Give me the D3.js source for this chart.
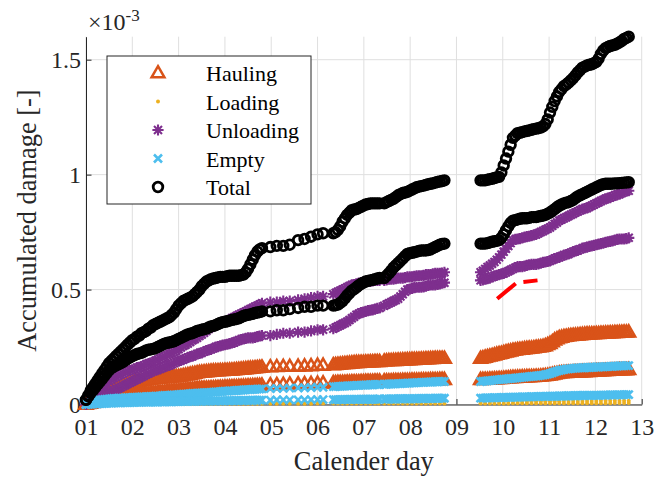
<!DOCTYPE html>
<html>
<head>
<meta charset="utf-8">
<script src="https://cdn.jsdelivr.net/npm/d3@7"></script>
<style>
  html, body { margin: 0; padding: 0; background: #fff; }
  svg { display: block; font-family: "Liberation Serif", "Times New Roman", serif; }
</style>
</head>
<body>
<svg id="chart" width="667" height="477"></svg>
<script>
// Time stamps (calendar day) of the recorded cycles
const days = [
  1.00, 1.05, 1.10, 1.15, 1.20, 1.25, 1.30, 1.35, 1.40, 1.45, 1.50, 1.55, 1.60, 1.65, 1.70, 1.75, 1.80, 1.85, 1.90, 1.95,
  2.00, 2.05, 2.10, 2.15, 2.20, 2.25, 2.30, 2.35, 2.40, 2.45, 2.50, 2.55, 2.60, 2.65, 2.70, 2.75, 2.80, 2.85, 2.90, 2.95,
  3.00, 3.05, 3.10, 3.15, 3.20, 3.25, 3.30, 3.35, 3.40, 3.45, 3.50, 3.55, 3.60, 3.65, 3.70, 3.75, 3.80, 3.85, 3.90, 3.95,
  4.00, 4.05, 4.10, 4.15, 4.20, 4.25, 4.30, 4.35, 4.40, 4.45, 4.50, 4.55, 4.60, 4.65, 4.70, 4.75, 4.80,
  4.98, 5.12, 5.26, 5.40,
  5.58, 5.72, 5.86, 6.00, 6.12,
  6.34, 6.39, 6.44, 6.49, 6.54, 6.59, 6.64, 6.69, 6.74, 6.79, 6.84, 6.89, 6.94, 6.99, 7.04, 7.09, 7.14, 7.19, 7.24, 7.29, 7.34,
  7.44, 7.49, 7.54, 7.59, 7.64, 7.69, 7.74, 7.79, 7.84, 7.89, 7.94, 7.99, 8.04, 8.09, 8.14, 8.19, 8.24, 8.29, 8.34, 8.39,
  8.44, 8.49, 8.54, 8.59, 8.64, 8.69, 8.74,
  9.52, 9.57, 9.62, 9.67, 9.72, 9.77, 9.82, 9.87, 9.92, 9.97, 10.02, 10.07, 10.12, 10.17, 10.22, 10.27, 10.32, 10.37, 10.42, 10.47,
  10.52, 10.57, 10.62, 10.67, 10.72, 10.77, 10.82, 10.87, 10.92, 10.97, 11.02, 11.07, 11.12, 11.17, 11.22, 11.27, 11.32, 11.37, 11.42, 11.47,
  11.52, 11.57, 11.62, 11.67, 11.72, 11.77, 11.82, 11.87, 11.92, 11.97, 12.02, 12.07, 12.12, 12.17, 12.22, 12.27, 12.32, 12.37, 12.42, 12.47,
  12.52, 12.57, 12.62, 12.67, 12.72
];

// Loading events are logged less often
const loadDays = [
  1.0, 1.1, 1.2, 1.3, 1.4, 1.5, 1.6, 1.7, 1.8, 1.9,
  2.0, 2.1, 2.2, 2.3, 2.4, 2.5, 2.6, 2.7, 2.8, 2.9,
  3.0, 3.1, 3.2, 3.3, 3.4, 3.5, 3.6, 3.7, 3.8, 3.9,
  4.0, 4.1, 4.2, 4.3, 4.4, 4.5, 4.6, 4.7, 4.8,
  4.98, 5.12, 5.26, 5.40,
  5.58, 5.72, 5.86, 6.00, 6.12,
  6.34, 6.44, 6.54, 6.64, 6.74, 6.84, 6.94, 7.04, 7.14, 7.24, 7.32,
  7.44, 7.54, 7.64, 7.74, 7.84, 7.94, 8.04, 8.14, 8.24, 8.34, 8.44, 8.54, 8.64, 8.74,
  9.52, 9.62, 9.72, 9.82, 9.92, 10.02, 10.12, 10.22, 10.32, 10.42, 10.52,
  10.62, 10.72, 10.82, 10.92, 11.02, 11.12, 11.22, 11.32, 11.42, 11.52,
  11.62, 11.72, 11.82, 11.92, 12.02, 12.12, 12.22, 12.32, 12.42, 12.52,
  12.62, 12.72
];

// Accumulated damage, units of 1e-3 (two machines per operating mode)
const haulingA = [
  0, .006, .012, .018, .024, .03, .035, .04, .045, .05, .055, .06, .064, .068, .072, .076, .08, .084, .087, .09,
  .093, .096, .098, .10, .103, .105, .107, .109, .11, .111, .112, .113, .114, .115, .116, .117, .118, .119, .12, .121,
  .122, .123, .125, .127, .129, .131, .133, .135, .137, .139, .14, .141, .142, .143, .144, .145, .146, .146, .147, .147,
  .148, .148, .149, .149, .15, .151, .152, .153, .154, .155, .156, .157, .158, .159, .16, .161, .162,
  .163, .164, .165, .165,
  .166, .167, .168, .17, .17,
  .172, .173, .174, .175, .176, .177, .178, .179, .18, .181, .182, .182, .183, .183, .184, .184, .185, .185, .186, .186, .186,
  .188, .189, .19, .19, .191, .191, .192, .192, .193, .193, .194, .194, .195, .195, .196, .196, .197, .197, .198, .198,
  .199, .199, .20, .20, .20, .20, .20,
  .20, .202, .205, .208, .21, .212, .215, .218, .22, .222, .225, .228, .23, .232, .235, .236, .238, .239, .24, .242,
  .243, .244, .245, .246, .248, .249, .25, .252, .255, .26, .265, .272, .28, .285, .29, .292, .295, .296, .298, .299,
  .30, .301, .302, .303, .304, .305, .306, .306, .307, .307, .308, .308, .309, .309, .31, .31, .311, .311, .312, .312,
  .313, .313, .314, .314, .315
];
const haulingB = [
  0, .003, .005, .008, .01, .013, .015, .018, .02, .022, .024, .026, .028, .03, .032, .034, .035, .037, .038, .04,
  .041, .042, .043, .044, .045, .046, .047, .048, .049, .05, .051, .052, .053, .054, .055, .056, .057, .058, .059, .06,
  .061, .062, .063, .064, .065, .066, .067, .068, .069, .07, .07, .07, .071, .071, .072, .072, .073, .073, .074, .074,
  .075, .075, .076, .076, .077, .077, .078, .078, .079, .079, .08, .08, .081, .081, .082, .082, .083,
  .085, .086, .087, .088,
  .089, .09, .091, .092, .093,
  .094, .094, .095, .095, .096, .096, .097, .097, .098, .098, .098, .098, .099, .099, .10, .10, .10, .10, .101, .101, .101,
  .102, .102, .102, .102, .103, .103, .103, .103, .104, .104, .104, .104, .105, .105, .105, .105, .106, .106, .106, .106,
  .107, .107, .107, .107, .108, .108, .108,
  .108, .108, .109, .109, .11, .11, .111, .111, .112, .112, .113, .114, .115, .116, .117, .117, .118, .118, .119, .119,
  .12, .12, .121, .121, .122, .122, .123, .124, .125, .126, .128, .13, .132, .134, .136, .137, .138, .138, .139, .139,
  .14, .14, .141, .141, .142, .142, .143, .143, .144, .144, .145, .145, .146, .146, .147, .147, .148, .148, .149, .149,
  .15, .15, .15, .15, .151
];
const loadingA = [
  0, .001, .001, .002, .002, .002, .003, .003, .003, .003,
  .004, .004, .004, .004, .004, .005, .005, .005, .005, .005,
  .005, .005, .006, .006, .006, .006, .006, .006, .006, .006,
  .007, .007, .007, .007, .007, .007, .007, .008, .008,
  .008, .008, .008, .008,
  .008, .008, .009, .009, .009,
  .009, .009, .009, .009, .01, .01, .01, .01, .01, .01, .01,
  .01, .01, .011, .011, .011, .011, .011, .011, .011, .012, .012, .012, .012, .012,
  .012, .012, .012, .012, .013, .013, .013, .013, .013, .013, .013,
  .014, .014, .014, .014, .014, .014, .014, .015, .015, .015,
  .015, .015, .015, .015, .015, .016, .016, .016, .016, .016,
  .016, .016
];
const loadingB = [
  0, 0, .001, .001, .001, .001, .001, .001, .001, .001,
  .002, .002, .002, .002, .002, .002, .002, .002, .002, .002,
  .002, .002, .002, .003, .003, .003, .003, .003, .003, .003,
  .003, .003, .003, .003, .003, .003, .003, .003, .003,
  .003, .003, .003, .003,
  .003, .003, .003, .004, .004,
  .004, .004, .004, .004, .004, .004, .004, .004, .004, .004, .004,
  .004, .004, .004, .004, .004, .004, .004, .004, .004, .004, .004, .004, .004, .004,
  .004, .004, .004, .004, .004, .004, .004, .005, .005, .005, .005,
  .005, .005, .005, .005, .005, .005, .005, .005, .005, .005,
  .005, .005, .005, .005, .005, .005, .005, .005, .006, .006,
  .006, .006
];
const unloadingA = [
  0, .01, .02, .03, .04, .05, .06, .07, .08, .09, .10, .108, .115, .12, .125, .13, .135, .14, .145, .148,
  .15, .155, .16, .162, .165, .17, .175, .178, .18, .185, .19, .195, .20, .205, .21, .215, .22, .225, .23, .235,
  .24, .248, .255, .26, .265, .272, .28, .285, .29, .298, .305, .312, .32, .328, .335, .34, .345, .35, .355, .358,
  .36, .365, .37, .375, .38, .385, .39, .395, .40, .405, .41, .415, .42, .425, .43, .435, .44,
  .445, .445, .45, .45,
  .455, .46, .465, .47, .47,
  .48, .485, .49, .495, .50, .505, .51, .515, .52, .522, .525, .528, .53, .532, .535, .535, .535, .538, .54, .54, .54,
  .54, .542, .545, .545, .545, .548, .55, .55, .55, .552, .555, .555, .555, .558, .56, .56, .56, .562, .565, .565,
  .565, .568, .57, .57, .57, .572, .575,
  .575, .582, .59, .598, .605, .612, .62, .63, .64, .652, .665, .678, .69, .702, .715, .718, .72, .722, .725, .728,
  .73, .732, .735, .738, .74, .745, .75, .755, .76, .765, .77, .778, .785, .792, .80, .805, .81, .815, .82, .825,
  .83, .835, .84, .845, .85, .852, .855, .86, .865, .87, .875, .88, .885, .89, .895, .898, .90, .905, .91, .912,
  .915, .92, .925, .928, .93
];
const unloadingB = [
  0, .005, .01, .015, .02, .025, .03, .035, .04, .045, .05, .055, .06, .065, .07, .075, .08, .085, .09, .095,
  .10, .105, .11, .115, .12, .125, .13, .135, .14, .145, .15, .152, .155, .16, .165, .168, .17, .175, .18, .185,
  .19, .192, .195, .20, .205, .208, .21, .215, .22, .222, .225, .23, .235, .238, .24, .245, .25, .252, .255, .258,
  .26, .262, .265, .268, .27, .275, .28, .282, .285, .288, .29, .29, .29, .292, .295, .298, .30,
  .30, .305, .31, .31,
  .315, .315, .32, .325, .325,
  .33, .335, .34, .345, .35, .355, .36, .368, .375, .382, .39, .395, .40, .402, .405, .408, .41, .412, .415, .418, .42,
  .43, .435, .44, .445, .45, .455, .46, .47, .48, .49, .50, .502, .505, .508, .51, .51, .51, .512, .515, .518,
  .52, .52, .52, .522, .525, .528, .53,
  .54, .542, .545, .548, .55, .555, .56, .562, .565, .568, .57, .575, .58, .585, .59, .595, .60, .60, .60, .602,
  .605, .608, .61, .61, .61, .612, .615, .618, .62, .622, .625, .63, .635, .638, .64, .645, .65, .652, .655, .66,
  .665, .668, .67, .675, .68, .682, .685, .688, .69, .692, .695, .698, .70, .702, .705, .708, .71, .712, .715, .718,
  .72, .72, .72, .722, .725
];
const emptyA = [
  0, .004, .007, .01, .014, .017, .02, .021, .022, .023, .024, .025, .026, .026, .027, .027, .028, .029, .03, .03,
  .031, .031, .032, .032, .033, .033, .034, .034, .035, .035, .036, .036, .037, .038, .039, .039, .04, .041, .042, .042,
  .043, .044, .045, .045, .046, .047, .048, .048, .049, .049, .05, .051, .052, .052, .053, .054, .055, .055, .056, .057,
  .058, .058, .059, .059, .06, .061, .062, .062, .063, .064, .065, .065, .066, .066, .067, .067, .068,
  .069, .07, .07, .071,
  .072, .073, .074, .075, .075,
  .078, .078, .079, .079, .08, .08, .081, .081, .082, .082, .083, .083, .084, .084, .085, .085, .086, .086, .087, .087, .087,
  .088, .088, .089, .089, .09, .09, .091, .091, .092, .092, .093, .093, .094, .094, .095, .095, .096, .096, .097, .097,
  .098, .098, .099, .099, .10, .10, .10,
  .10, .101, .102, .103, .104, .105, .106, .107, .108, .109, .11, .111, .112, .113, .114, .115, .116, .117, .118, .119,
  .12, .121, .122, .123, .124, .125, .127, .128, .13, .132, .135, .138, .142, .145, .148, .15, .152, .154, .155, .156,
  .157, .158, .159, .159, .16, .16, .161, .161, .162, .162, .163, .163, .164, .164, .165, .165, .166, .166, .167, .167,
  .168, .168, .168, .169, .169
];
const emptyB = [
  0, .001, .002, .002, .003, .003, .004, .004, .005, .005, .006, .006, .007, .007, .007, .007, .008, .008, .008, .008,
  .009, .009, .009, .009, .01, .01, .01, .01, .011, .011, .011, .011, .012, .012, .012, .012, .012, .012, .013, .013,
  .013, .013, .014, .014, .014, .014, .014, .014, .015, .015, .015, .015, .015, .015, .016, .016, .016, .016, .016, .016,
  .017, .017, .017, .017, .017, .017, .018, .018, .018, .018, .018, .018, .019, .019, .019, .019, .019,
  .019, .02, .02, .02,
  .02, .02, .021, .021, .021,
  .021, .021, .021, .021, .021, .022, .022, .022, .022, .022, .022, .022, .023, .023, .023, .023, .023, .023, .023, .023, .024,
  .024, .024, .024, .024, .024, .024, .025, .025, .025, .025, .025, .025, .025, .025, .025, .026, .026, .026, .026, .026,
  .026, .026, .027, .027, .027, .027, .027,
  .028, .028, .029, .029, .029, .029, .03, .03, .03, .03, .031, .031, .031, .031, .032, .032, .032, .032, .033, .033,
  .033, .033, .034, .034, .034, .034, .035, .035, .035, .035, .036, .036, .036, .036, .037, .037, .037, .037, .038, .038,
  .038, .038, .039, .039, .039, .039, .04, .04, .04, .04, .04, .04, .041, .041, .041, .041, .042, .042, .042, .042,
  .042, .042, .043, .043, .043
];
const totalA = [
  .02, .04, .06, .075, .09, .105, .12, .135, .15, .165, .18, .19, .20, .21, .22, .23, .24, .25, .26, .27,
  .28, .285, .295, .30, .31, .315, .32, .33, .335, .345, .35, .355, .36, .365, .37, .375, .38, .39, .40, .415,
  .43, .44, .45, .455, .46, .465, .47, .48, .49, .50, .515, .525, .535, .54, .545, .548, .55, .553, .555, .555,
  .555, .558, .56, .56, .56, .56, .56, .563, .565, .575, .59, .61, .63, .65, .665, .675, .68,
  .685, .69, .69, .695,
  .715, .72, .73, .74, .745,
  .745, .75, .76, .775, .795, .81, .825, .835, .845, .848, .85, .855, .86, .865, .87, .872, .875, .875, .875, .875, .875,
  .875, .88, .885, .89, .895, .902, .91, .915, .92, .922, .925, .93, .935, .94, .945, .948, .95, .952, .955, .958,
  .96, .962, .965, .968, .97, .972, .975,
  .975, .975, .975, .978, .98, .982, .985, .988, .99, 1.01, 1.04, 1.07, 1.10, 1.13, 1.16, 1.17, 1.18, 1.182, 1.185, 1.188,
  1.19, 1.192, 1.195, 1.198, 1.2, 1.202, 1.205, 1.21, 1.22, 1.24, 1.27, 1.295, 1.32, 1.34, 1.36, 1.372, 1.385, 1.392, 1.40, 1.41,
  1.42, 1.432, 1.445, 1.455, 1.465, 1.47, 1.475, 1.478, 1.48, 1.485, 1.49, 1.505, 1.525, 1.54, 1.55, 1.555, 1.56, 1.562, 1.565, 1.57,
  1.575, 1.582, 1.59, 1.595, 1.60
];
const totalB = [
  .02, .035, .05, .062, .075, .088, .10, .112, .125, .138, .15, .158, .165, .17, .175, .18, .185, .192, .20, .205,
  .21, .215, .22, .222, .225, .23, .235, .238, .24, .242, .245, .25, .255, .26, .265, .268, .27, .272, .275, .28,
  .285, .29, .295, .30, .305, .308, .31, .315, .32, .322, .325, .328, .33, .335, .34, .342, .345, .35, .355, .358,
  .36, .362, .365, .368, .37, .372, .375, .38, .385, .388, .39, .392, .395, .398, .40, .402, .405,
  .405, .41, .41, .415,
  .42, .425, .425, .43, .43,
  .43, .432, .435, .442, .45, .462, .475, .485, .495, .502, .51, .518, .525, .53, .535, .538, .54, .542, .545, .548, .55,
  .55, .56, .57, .582, .595, .605, .615, .625, .635, .645, .655, .658, .66, .662, .665, .668, .67, .67, .67, .672,
  .675, .68, .685, .69, .695, .698, .70,
  .70, .70, .70, .702, .705, .708, .71, .712, .715, .725, .74, .758, .775, .79, .80, .802, .805, .808, .81, .81,
  .81, .812, .815, .815, .815, .818, .82, .822, .825, .83, .835, .842, .85, .858, .865, .87, .875, .878, .88, .885,
  .89, .898, .905, .91, .915, .92, .925, .93, .935, .94, .945, .95, .955, .958, .96, .96, .96, .961, .962, .962,
  .963, .964, .965, .966, .967
];

// Dashed red reference segment
const refDays = [9.88, 10.3, 10.75];
const refValues = [0.46, 0.53, 0.54];

// Axis ticks and legend
const dayTicks = [1, 2, 3, 4, 5, 6, 7, 8, 9, 10, 11, 12, 13];
const damageTicks = [0, 0.5, 1, 1.5];
const modeNames = ["Hauling", "Loading", "Unloading", "Empty", "Total"];

// ---------------------------------------------------------------
const W = 667, H = 477;
const margin = { top: 36.7, right: 25.3, bottom: 72.5, left: 86 };
const axisColor = "#262626";

const svg = d3.select("#chart");
const x = d3.scaleLinear().domain([1, 13]).range([margin.left, W - margin.right]);
const y = d3.scaleLinear().domain([0, 1.6]).range([H - margin.bottom, margin.top]);

// grid
const grid = svg.append("g").attr("stroke", "#dfdfdf").attr("stroke-width", 1);
grid.selectAll("line.v").data(dayTicks).join("line")
  .attr("x1", d => x(d)).attr("x2", d => x(d))
  .attr("y1", y(0)).attr("y2", y(1.6));
grid.selectAll("line.h").data(damageTicks).join("line")
  .attr("x1", x(1)).attr("x2", x(13))
  .attr("y1", d => y(d)).attr("y2", d => y(d));

// axes (ticks pointing inward)
const gx = svg.append("g")
  .attr("transform", `translate(0,${y(0)})`)
  .call(d3.axisBottom(x).tickValues(dayTicks)
    .tickFormat(d => String(d).padStart(2, "0"))
    .tickSizeInner(-5.5).tickSizeOuter(0).tickPadding(13));
const gy = svg.append("g")
  .attr("transform", `translate(${x(1)},0)`)
  .call(d3.axisLeft(y).tickValues(damageTicks)
    .tickFormat(d => String(d))
    .tickSizeInner(-5.5).tickSizeOuter(0).tickPadding(5));
[gx, gy].forEach(g => {
  g.selectAll("path, line").attr("stroke", axisColor).attr("stroke-width", 1);
  g.selectAll("text").attr("fill", axisColor)
    .style("font-family", '"Liberation Serif", "Times New Roman", serif')
    .style("font-size", "24px");
});

// exponent note
const expo = svg.append("text").attr("x", 88).attr("y", 30)
  .attr("fill", axisColor).style("font-size", "24px");
expo.append("tspan").text("\u00d710");
expo.append("tspan").attr("dy", -9).style("font-size", "17px").text("-3");

// axis titles
svg.append("text").attr("x", (x(1) + x(13)) / 2).attr("y", 470)
  .attr("text-anchor", "middle").attr("fill", axisColor)
  .style("font-size", "26.4px").text("Calender day");
svg.append("text")
  .attr("transform", `translate(36,${(y(0) + y(1.6)) / 2}) rotate(-90)`)
  .attr("text-anchor", "middle").attr("fill", axisColor)
  .style("font-size", "26.4px").text("Accumulated damage [-]");

// marker shapes
function circlePath(r) {
  const p = d3.path();
  p.moveTo(r, 0); p.arc(0, 0, r, 0, 2 * Math.PI); p.closePath();
  return p.toString();
}
const shapes = {
  tri:   { d: "M0,-6.8L6.4,4.3L-6.4,4.3Z", fill: "none", sw: 2.5 },
  dot:   { d: circlePath(2), fill: "color", sw: 0 },
  star:  { d: "M-5.6,0H5.6M0,-5.6V5.6M-4,-4L4,4M-4,4L4,-4", fill: "none", sw: 2.1 },
  cross: { d: "M-4,-4L4,4M-4,4L4,-4", fill: "none", sw: 2.6 },
  ring:  { d: circlePath(4.8), fill: "none", sw: 2.8 }
};

const modes = [
  { name: modeNames[0], shape: "tri",   color: "#D95319", t: days,     sets: [haulingA, haulingB] },
  { name: modeNames[1], shape: "dot",   color: "#EDB120", t: loadDays, sets: [loadingA, loadingB] },
  { name: modeNames[2], shape: "star",  color: "#7E2F8E", t: days,     sets: [unloadingA, unloadingB] },
  { name: modeNames[3], shape: "cross", color: "#4DBEEE", t: days,     sets: [emptyA, emptyB] },
  { name: modeNames[4], shape: "ring",  color: "#000000", t: days,     sets: [totalA, totalB] }
];

function styleMarker(sel, m) {
  const s = shapes[m.shape];
  sel.attr("d", s.d)
    .attr("fill", s.fill === "color" ? m.color : "none")
    .attr("stroke", s.sw ? m.color : "none")
    .attr("stroke-width", s.sw)
    .attr("stroke-linejoin", "miter");
}

const plot = svg.append("g");
modes.forEach(m => {
  m.sets.forEach(vals => {
    const pts = m.t.map((d, i) => [d, vals[i]]).filter(p => p[1] != null);
    plot.append("g").selectAll("path").data(pts).join("path")
      .attr("transform", p => `translate(${x(p[0])},${y(p[1])})`)
      .call(styleMarker, m);
  });
});

// red dashed segment
svg.append("path")
  .datum(refDays.map((d, i) => [d, refValues[i]]))
  .attr("d", d3.line().x(p => x(p[0])).y(p => y(p[1])))
  .attr("fill", "none").attr("stroke", "#FF0000")
  .attr("stroke-width", 4).attr("stroke-dasharray", "24,8");

// legend
const lg = svg.append("g");
lg.append("rect").attr("x", 107).attr("y", 56).attr("width", 204).attr("height", 148)
  .attr("fill", "#fff").attr("stroke", axisColor).attr("stroke-width", 1);
modes.forEach((m, i) => {
  const cy = 73 + i * 28.5;
  lg.append("path").attr("transform", `translate(158,${cy})`).call(styleMarker, m);
  lg.append("text").attr("x", 206).attr("y", cy + 8)
    .attr("fill", "#000").style("font-size", "22px").text(m.name);
});
</script>
</body>
</html>
